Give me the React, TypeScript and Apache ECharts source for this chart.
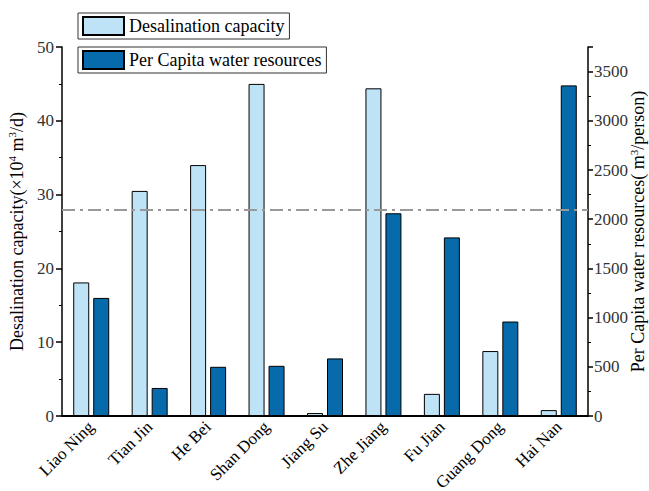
import React, { useEffect, useRef } from "react";
import * as echarts from "echarts";

const categories = ["Liao Ning", "Tian Jin", "He Bei", "Shan Dong", "Jiang Su", "Zhe Jiang", "Fu Jian", "Guang Dong", "Hai Nan"];
const desalination = [18.1, 30.5, 34.0, 45.0, 0.4, 44.4, 3.0, 8.8, 0.8];
const perCapita = [1200, 285, 500, 510, 585, 2060, 1815, 960, 3360];
const referenceLevel = 28;
const seriesNames = ["Desalination capacity", "Per Capita water resources"];

const FONT = "'Liberation Serif', 'Times New Roman', serif";
const LIGHT = "#bee3f7";
const DARK = "#066aab";

export default function App() {
  const ref = useRef<HTMLDivElement>(null);
  useEffect(() => {
    if (!ref.current) return;
    const chart = echarts.init(ref.current, null, { renderer: "svg" });
    const legendBase = {
      orient: "horizontal",
      left: 78,
      itemWidth: 41,
      itemHeight: 18,
      borderColor: "#333",
      borderWidth: 1,
      padding: [3, 5, 3, 4],
      icon: "rect",
      textStyle: { fontFamily: FONT, fontSize: 18, color: "#000" },
    };
    chart.setOption({
      animation: false,
      backgroundColor: "#fff",
      legend: [
        { ...legendBase, top: 13, data: [seriesNames[0]] },
        { ...legendBase, top: 47, data: [seriesNames[1]] },
      ],
      grid: { left: 62, right: 61, top: 47, bottom: 75, containLabel: false, outerBoundsMode: "none" },
      xAxis: {
        type: "category",
        data: categories,
        axisLine: { lineStyle: { color: "#000", width: 2 } },
        axisTick: { show: false },
        axisLabel: { rotate: 45, fontFamily: FONT, fontSize: 17, color: "#000", margin: 8, interval: 0 },
      },
      yAxis: [
        {
          type: "value",
          min: 0,
          max: 50,
          interval: 10,
          position: "left",
          name: "Desalination capacity(×10{sup|4} m{sup|3}/d)",
          nameLocation: "middle",
          nameGap: 34,
          nameMoveOverlap: false,
          nameTextStyle: {
            fontFamily: FONT, fontSize: 18, color: "#000",
            rich: { sup: { fontFamily: FONT, fontSize: 11, color: "#000", verticalAlign: "top", lineHeight: 22 } },
          },
          axisLine: { show: true, lineStyle: { color: "#000", width: 1.5 } },
          axisTick: { show: true, inside: false, length: 6, lineStyle: { color: "#000", width: 1.5 } },
          minorTick: { show: true, splitNumber: 2, length: 3, lineStyle: { color: "#000", width: 1 } },
          splitLine: { show: false },
          axisLabel: { fontFamily: FONT, fontSize: 17, color: "#333", margin: 8 },
        },
        {
          type: "value",
          min: 0,
          max: 3750,
          interval: 500,
          position: "right",
          name: "Per Capita water resources( m{sup|3}/person)",
          nameLocation: "middle",
          nameGap: 40,
          nameMoveOverlap: false,
          nameTextStyle: {
            fontFamily: FONT, fontSize: 18, color: "#000",
            rich: { sup: { fontFamily: FONT, fontSize: 11, color: "#000", verticalAlign: "top", lineHeight: 20 } },
          },
          axisLine: { show: true, lineStyle: { color: "#000", width: 1.5 } },
          axisTick: { show: true, inside: false, length: 5, lineStyle: { color: "#000", width: 1.5 } },
          minorTick: { show: true, splitNumber: 2, length: 3, lineStyle: { color: "#000", width: 1 } },
          splitLine: { show: false },
          axisLabel: {
            fontFamily: FONT, fontSize: 17, color: "#333", margin: 6, showMaxLabel: false,
            formatter: (v: number) => String(v),
          },
        },
      ],
      series: [
        {
          name: seriesNames[0],
          type: "bar",
          yAxisIndex: 0,
          data: desalination,
          barWidth: 16,
          barGap: "25%",
          itemStyle: { color: LIGHT, borderColor: "#000", borderWidth: 1 },
          markLine: {
            silent: true,
            symbol: "none",
            label: { show: false },
            lineStyle: { color: "#999", width: 2, type: [13, 5, 3, 5] },
            data: [{ yAxis: referenceLevel }],
          },
        },
        {
          name: seriesNames[1],
          type: "bar",
          yAxisIndex: 1,
          data: perCapita,
          barWidth: 16,
          barGap: "25%",
          itemStyle: { color: DARK, borderColor: "#000", borderWidth: 1 },
        },
      ],
    });
    return () => chart.dispose();
  }, []);
  return <div ref={ref} style={{ position: "fixed", left: 0, top: 0, width: 649, height: 491 }} />;
}
